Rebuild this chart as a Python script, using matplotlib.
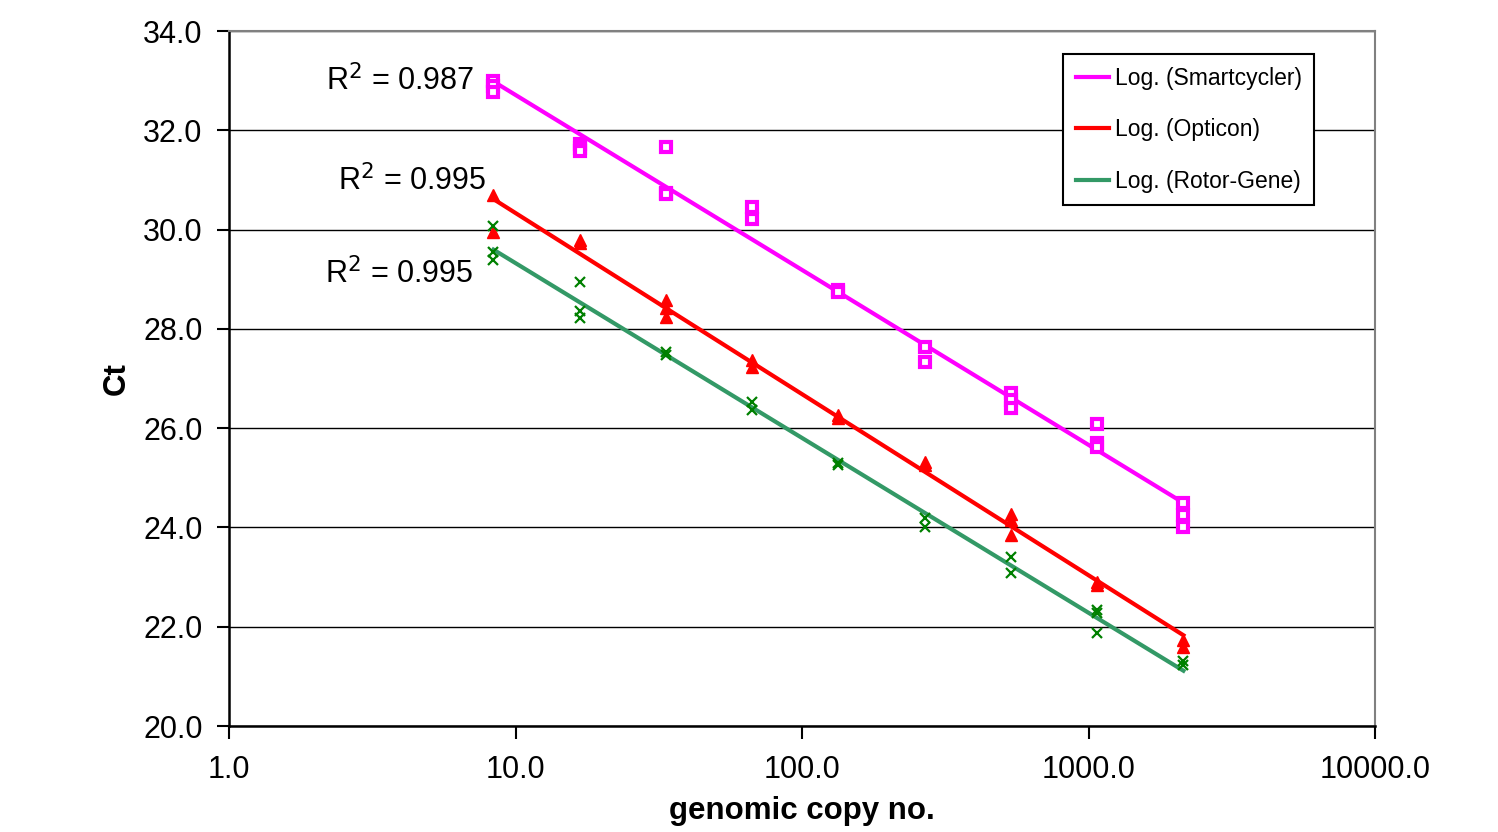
import numpy as np
import matplotlib.pyplot as plt

plt.rcParams['font.family'] = ['Liberation Sans', 'DejaVu Sans']

# genomic copy numbers (doubling dilution series)
copies = [8.375, 16.75, 33.5, 67, 134, 268, 536, 1072, 2144]

# Ct replicates
ct_smart = [[33.0, 32.9, 32.78], [31.72, 31.64, 31.58], [31.66, 30.74, 30.72],
            [30.46, 30.21], [28.78, 28.74], [27.64, 27.34],
            [26.70, 26.57, 26.40], [26.08, 25.70, 25.63], [24.50, 24.25, 24.01]]
ct_opticon = [[30.70, 29.96], [29.79, 29.73], [28.58, 28.42, 28.24],
              [27.37, 27.24], [26.26, 26.20], [25.32, 25.26],
              [24.28, 24.15, 23.85], [22.91, 22.84], [21.73, 21.60]]
ct_rotor = [[30.07, 29.55, 29.39], [28.94, 28.36, 28.22], [27.53, 27.47],
            [26.53, 26.36], [25.30, 25.26], [24.19, 24.01],
            [23.41, 23.09], [22.34, 22.27, 21.88], [21.30, 21.23]]

labels = ['Log. (Smartcycler)', 'Log. (Opticon)', 'Log. (Rotor-Gene)']
r2_text = ['0.987', '0.995', '0.995']
r2_pos = [(7.2, 33.0), (7.9, 30.98), (7.15, 29.1)]


def flatten(xs, groups):
    px, py = [], []
    for x, g in zip(xs, groups):
        for v in g:
            px.append(x)
            py.append(v)
    return np.array(px), np.array(py)


fig = plt.figure(figsize=(14.98, 8.32), dpi=100)
ax = fig.add_axes([0.1529, 0.1274, 0.765, 0.8353])

series = [
    (ct_smart, dict(marker='s', ms=6.5, mfc='white', mec='#FF00FF', mew=3), '#FF00FF'),
    (ct_opticon, dict(marker='^', ms=8, mfc='#FF0000', mec='#FF0000', mew=1), '#FF0000'),
    (ct_rotor, dict(marker='x', ms=7, mec='#008000', mew=1.6), '#339966'),
]

for (groups, mstyle, lcol), lab, r2, pos in zip(series, labels, r2_text, r2_pos):
    px, py = flatten(copies, groups)
    ax.plot(px, py, linestyle='none', zorder=4, **mstyle)
    # logarithmic trendline, like Excel
    a, b = np.polyfit(np.log(px), py, 1)
    xx = np.logspace(np.log10(min(copies)), np.log10(max(copies)), 100)
    ax.plot(xx, a * np.log(xx) + b, color=lcol, lw=3, label=lab, zorder=3)
    ax.text(pos[0], pos[1], 'R$^2$ = ' + r2, fontsize=22, ha='right', va='center')

ax.set_xscale('log')
ax.set_xlim(1, 10000)
ax.set_ylim(20, 34)
ax.set_xticks([1, 10, 100, 1000, 10000])
ax.set_xticklabels(['1.0', '10.0', '100.0', '1000.0', '10000.0'])
ax.xaxis.set_minor_locator(plt.NullLocator())
yt = np.arange(20, 34.1, 2)
ax.set_yticks(yt)
ax.set_yticklabels(['%.1f' % v for v in yt])
ax.tick_params(labelsize=22, width=1.5, length=9, direction='out')
ax.tick_params(axis='x', pad=12)
ax.tick_params(axis='y', pad=10)
ax.yaxis.grid(True, color='black', lw=1.0)
ax.set_axisbelow(True)

for s in ['left', 'bottom']:
    ax.spines[s].set_linewidth(1.8)
for s in ['top', 'right']:
    ax.spines[s].set_color('#808080')
    ax.spines[s].set_linewidth(1.5)

ax.set_xlabel('genomic copy no.', fontsize=22.5, fontweight='bold', labelpad=8)
ax.set_ylabel('Ct', fontsize=22.5, fontweight='bold', labelpad=8)

leg = ax.legend(loc='upper left', bbox_to_anchor=(0.728, 0.967), fontsize=16.5,
                frameon=True, fancybox=False, edgecolor='black', framealpha=1,
                handlelength=1.45, handletextpad=0.25, labelspacing=1.25,
                borderpad=0.55, borderaxespad=0)
leg.get_frame().set_linewidth(1.5)

fig.savefig('out.png', dpi=100)
